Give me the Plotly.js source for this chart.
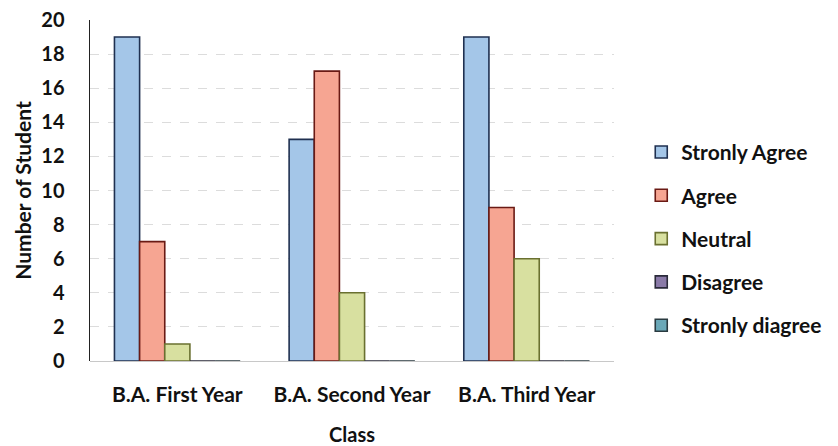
<!DOCTYPE html>
<html>
<head>
<meta charset="utf-8">
<script src="https://cdn.plot.ly/plotly-3.0.1.min.js"></script>
<style>html,body{margin:0;padding:0;background:#fff;}#chart{width:838px;height:446px;}</style>
</head>
<body>
<div id="chart"></div>
<script>
const categories = ["B.A. First Year", "B.A. Second Year", "B.A. Third Year"];
const seriesNames = ["Stronly Agree", "Agree", "Neutral", "Disagree", "Stronly diagree"];
const stronglyAgree = [19, 13, 19];
const agree = [7, 17, 9];
const neutral = [1, 4, 6];
const disagree = [0, 0, 0];
const stronglyDisagree = [0, 0, 0];
const yTicks = [0, 2, 4, 6, 8, 10, 12, 14, 16, 18, 20];

const seriesValues = [stronglyAgree, agree, neutral, disagree, stronglyDisagree];
const fills = ["#a4c6e8", "#f6a592", "#d8e0a0", "#8a7aa8", "#6aa8b8"];
const lines = ["#1f3050", "#6a1a14", "#6a7030", "#2a2a3a", "#2a3a40"];

const font = "Lato, 'Open Sans', sans-serif";
const traces = seriesNames.map((n, i) => ({
  type: "bar",
  name: n,
  x: categories,
  y: seriesValues[i],
  legendgroup: "g" + i,
  marker: {color: fills[i], line: {color: lines[i], width: 1.6}},
  hoverinfo: "skip"
}));

const layout = {
  width: 838, height: 446,
  margin: {l: 90, r: 223, t: 20, b: 85},
  paper_bgcolor: "#fff", plot_bgcolor: "#fff",
  barmode: "group",
  bargap: 0.28,
  bargroupgap: 0,
  font: {family: font, size: 15, color: "#111"},
  xaxis: {
    type: "category",
    showline: false, ticks: "", showgrid: false, zeroline: false,
    ticklabelstandoff: 19,
    tickfont: {family: font, size: 21, weight: "bold", color: "#111"},
    title: {text: "Class", font: {family: font, size: 20, weight: "bold", color: "#111"}, standoff: 22}
  },
  yaxis: {
    range: [0, 20], tickvals: yTicks, ticktext: yTicks.map(String),
    showline: true, linecolor: "#222", linewidth: 1.5,
    ticks: "", ticklabelstandoff: 20,
    showgrid: true, gridcolor: "#dcdcdc", griddash: "dash", gridwidth: 1,
    zeroline: true, zerolinecolor: "#c8c8c8", zerolinewidth: 1,
    tickfont: {family: font, size: 20, weight: "bold", color: "#111"},
    title: {text: "Number of Student", font: {family: font, size: 21, weight: "bold", color: "#111"}, standoff: 4}
  },
  legend: {
    x: 1.05, y: 0.672, xref: "paper", yref: "paper", xanchor: "left", yanchor: "top",
    font: {family: font, size: 21, weight: "bold", color: "#111"},
    tracegroupgap: 13,
    itemwidth: 30,
    bgcolor: "rgba(0,0,0,0)"
  },
  showlegend: true
};

Plotly.newPlot("chart", traces, layout, {displayModeBar: false, staticPlot: true});
</script>
</body>
</html>
